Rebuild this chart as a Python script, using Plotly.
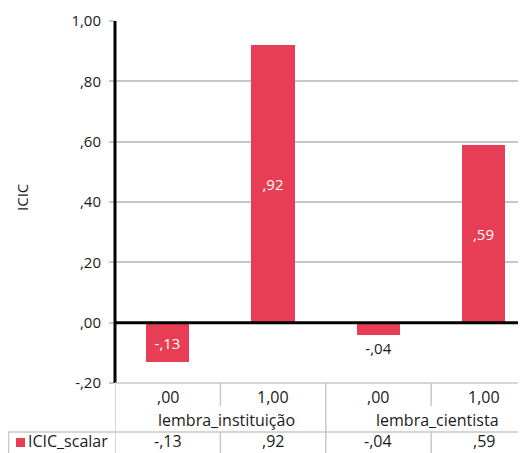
import plotly.graph_objects as go

groups = ["lembra_instituição", "lembra_cientista"]
levels = [",00", "1,00", ",00", "1,00"]
values = [-0.13, 0.92, -0.04, 0.59]
value_labels = ["-,13", ",92", "-,04", ",59"]
series_name = "ICIC_scalar"
axis_title = "ICIC"
y_ticks = [-0.2, 0.0, 0.2, 0.4, 0.6, 0.8, 1.0]
y_tick_labels = ["-,20", ",00", ",20", ",40", ",60", ",80", "1,00"]

# page body has an 8px default margin; compensate so the chart sits at the window origin
OFF = 8
W, H = 526 - OFF, 453 - OFF
ML, MR, MT, MB = 115 - OFF, 0, 21 - OFF, 70
PW = W - ML - MR
PH = H - MT - MB
BAR = "#e83e55"
FONT = "Open Sans, Lato, sans-serif"
FS = 15
FT = 16
TXT = "#1a1a1a"
GRID = "#c8c8c8"


def py(pix):
    # page pixel row -> paper coords
    return (H - MB - (pix - OFF)) / PH


def px(pix):
    # page pixel column -> paper coords
    return ((pix - OFF) - ML) / PW


xs = list(range(len(values)))
positions = ["inside" if abs(v) > 0.08 else "outside" for v in values]
colors = ["white" if p == "inside" else TXT for p in positions]

fig = go.Figure()
fig.add_trace(go.Bar(
    x=xs, y=values, width=0.41, marker=dict(color=BAR, line=dict(width=0)),
    text=value_labels, textposition=positions, insidetextanchor="middle",
    textfont=dict(family=FONT, size=FS, color=colors), cliponaxis=False,
    hoverinfo="skip", showlegend=False,
))

LW = 1.5
shapes = []
shapes.append(dict(type="line", xref="paper", yref="y", x0=0, x1=1, y0=0, y1=0,
                   line=dict(color="black", width=3), layer="above"))
shapes.append(dict(type="line", xref="paper", yref="paper", x0=0, x1=0, y0=0, y1=1,
                   line=dict(color="black", width=3), layer="above"))
shapes.append(dict(type="line", xref="paper", yref="paper", x0=0, x1=1, y0=0, y1=0,
                   line=dict(color=GRID, width=LW)))
shapes.append(dict(type="line", xref="paper", yref="paper", x0=px(8), x1=1,
                   y0=py(432), y1=py(432), line=dict(color=GRID, width=LW)))
shapes.append(dict(type="line", xref="paper", yref="paper", x0=px(8.5), x1=px(8.5),
                   y0=py(432), y1=py(460), line=dict(color=GRID, width=LW)))
n = len(values)
per_group = n // len(groups)
for b in range(n):
    xb = b - 0.5
    if b % per_group == 0:
        shapes.append(dict(type="line", xref="x", yref="paper", x0=xb, x1=xb,
                           y0=0, y1=py(460), line=dict(color=GRID, width=LW)))
    else:
        shapes.append(dict(type="line", xref="x", yref="paper", x0=xb, x1=xb,
                           y0=0, y1=py(406), line=dict(color=GRID, width=LW)))
        shapes.append(dict(type="line", xref="x", yref="paper", x0=xb, x1=xb,
                           y0=py(432), y1=py(460), line=dict(color=GRID, width=LW)))
shapes.append(dict(type="rect", xref="paper", yref="paper",
                   x0=px(16), x1=px(25), y0=py(447), y1=py(438),
                   fillcolor=BAR, line=dict(width=0)))


def note(**kw):
    base = dict(showarrow=False, xanchor="center", yanchor="middle", borderpad=0,
                font=dict(family=FONT, size=FT, color=TXT))
    base.update(kw)
    return base


annotations = []
for i, lab in enumerate(levels):
    annotations.append(note(x=i, y=py(397), xref="x", yref="paper", text=lab))
    annotations.append(note(x=i, y=py(453), xref="x", yref="paper", text=value_labels[i],
                            yanchor="bottom"))
for g, name in enumerate(groups):
    cx = g * per_group + (per_group - 1) / 2
    annotations.append(note(x=cx, y=py(420), xref="x", yref="paper", text=name, xshift=6))
annotations.append(note(x=px(27), y=py(453), xref="paper", yref="paper", text=series_name,
                        xanchor="left", yanchor="bottom"))
annotations.append(note(x=px(22), y=py(198), xref="paper", yref="paper", text=axis_title,
                        textangle=-90, font=dict(family=FONT, size=FS, color=TXT)))

fig.update_layout(
    width=W, height=H, margin=dict(l=ML, r=MR, t=MT, b=MB, autoexpand=False),
    paper_bgcolor="white", plot_bgcolor="white",
    font=dict(family=FONT, size=FS, color=TXT),
    shapes=shapes, annotations=annotations, bargap=0,
    xaxis=dict(range=[-0.5, 3.4], showticklabels=False, showgrid=False, zeroline=False,
               ticks="", fixedrange=True, automargin=False),
    yaxis=dict(range=[-0.2, 1.0], tickvals=y_ticks, ticktext=y_tick_labels,
               showgrid=True, gridcolor=GRID, gridwidth=LW, zeroline=False,
               ticks="outside", ticklen=5, tickcolor=GRID, tickwidth=LW,
               ticklabelstandoff=5, automargin=False,
               tickfont=dict(family=FONT, size=FS, color=TXT)),
)

fig.write_html("out.html")
